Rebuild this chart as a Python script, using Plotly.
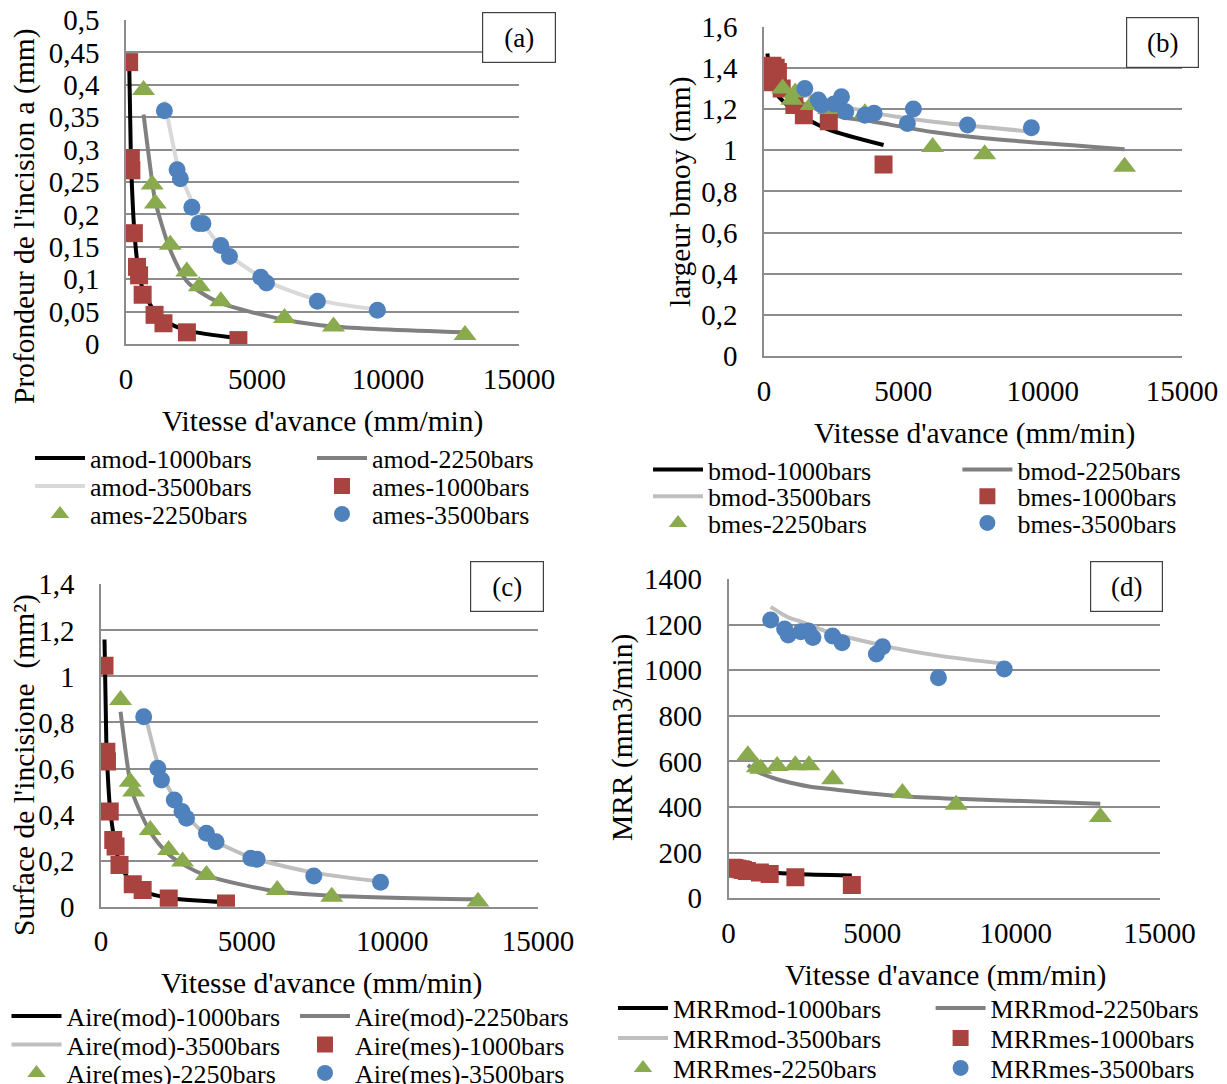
import plotly.graph_objects as go

# page has an 8px body margin: figure is shrunk and all pixel positions shifted by it
OFF = 8
W, H = 1227 - OFF, 1084 - OFF
FONT = "Liberation Serif"

# ---------------- data ----------------
# feed rates (mm/min) for each pressure
v_1000 = [120, 185, 205, 300, 420, 500, 635, 1090, 1430, 2325, 4290]
v_2250 = [670, 1000, 1120, 1690, 2320, 2800, 3620, 6050, 7920, 12940]
v_3500 = [1465, 1950, 2075, 2515, 2780, 2935, 3620, 3950, 5145, 5360, 7305, 9595]

# (a) depth a (mm)
a_mod_1000 = [0.44, 0.29, 0.265, 0.185, 0.13, 0.11, 0.085, 0.05, 0.037, 0.021, 0.009]
a_mod_2250 = [0.354, 0.25, 0.22, 0.145, 0.097, 0.081, 0.063, 0.0375, 0.027, 0.018]
a_mod_3500 = [0.375, 0.279, 0.262, 0.220, 0.198, 0.187, 0.150, 0.136, 0.103, 0.097, 0.068, 0.053]
a_mes_1000 = [0.435, 0.287, 0.268, 0.171, 0.119, 0.106, 0.076, 0.045, 0.032, 0.018, 0.006]
a_mes_2250 = [0.392, 0.246, 0.217, 0.153, 0.112, 0.089, 0.066, 0.040, 0.027, 0.014]
a_mes_3500 = [0.360, 0.269, 0.255, 0.211, 0.186, 0.186, 0.152, 0.135, 0.103, 0.094, 0.066, 0.052]

# (b) mean width bmoy (mm)
b_mod_1000 = [1.47, 1.41, 1.39, 1.34, 1.29, 1.265, 1.245, 1.19, 1.16, 1.10, 1.025]
b_mod_2250 = [1.30, 1.26, 1.245, 1.21, 1.18, 1.16, 1.145, 1.088, 1.058, 1.005]
b_mod_3500 = [1.27, 1.25, 1.24, 1.225, 1.215, 1.21, 1.19, 1.18, 1.155, 1.15, 1.12, 1.09]
b_mes_1000 = [1.36, 1.33, 1.40, 1.41, 1.40, 1.38, 1.30, 1.22, 1.17, 1.14, 0.93]
b_mes_2250 = [1.30, 1.245, 1.28, 1.22, 1.20, 1.21, 1.18, 1.015, 0.98, 0.92]
b_mes_3500 = [1.30, 1.244, 1.22, 1.225, 1.26, 1.187, 1.17, 1.18, 1.13, 1.20, 1.122, 1.109]

# (c) cut area (mm²)
c_mod_1000 = [1.16, 0.70, 0.64, 0.44, 0.32, 0.26, 0.19, 0.095, 0.068, 0.038, 0.020]
c_mod_2250 = [0.847, 0.54, 0.48, 0.325, 0.228, 0.185, 0.135, 0.066, 0.048, 0.032]
c_mod_3500 = [0.86, 0.62, 0.58, 0.47, 0.42, 0.395, 0.31, 0.282, 0.213, 0.205, 0.148, 0.109]
c_mes_1000 = [1.046, 0.673, 0.630, 0.413, 0.290, 0.261, 0.181, 0.097, 0.072, 0.036, 0.014]
c_mes_2250 = [0.898, 0.543, 0.50, 0.333, 0.246, 0.196, 0.138, 0.072, 0.043, 0.022]
c_mes_3500 = [0.825, 0.601, 0.550, 0.463, 0.413, 0.384, 0.319, 0.282, 0.210, 0.206, 0.133, 0.106]

# (d) MRR (mm3/min)
d_mod_1000 = [138, 135, 134, 131, 128, 126, 123, 117, 113, 107, 100]
d_mod_2250 = [584, 555, 548, 522, 502, 490, 478, 447, 436, 415]
d_mod_3500 = [1278, 1240, 1232, 1213, 1200, 1193, 1160, 1150, 1115, 1108, 1064, 1028]
d_mes_1000 = [134, 133, 132, 130, 127, 124, 120, 113, 106, 92, 58]
d_mes_2250 = [627, 575, 568, 580, 583, 583, 522, 462, 410, 356]
d_mes_3500 = [1220, 1181, 1154, 1169, 1172, 1144, 1150, 1121, 1071, 1103, 967, 1005]

# tick labels
x_tickvals = [0, 5000, 10000, 15000]
x_ticktext = ["0", "5000", "10000", "15000"]
a_tickvals = [0, 0.05, 0.1, 0.15, 0.2, 0.25, 0.3, 0.35, 0.4, 0.45, 0.5]
a_ticktext = ["0", "0,05", "0,1", "0,15", "0,2", "0,25", "0,3", "0,35", "0,4", "0,45", "0,5"]
b_tickvals = [0, 0.2, 0.4, 0.6, 0.8, 1.0, 1.2, 1.4, 1.6]
b_ticktext = ["0", "0,2", "0,4", "0,6", "0,8", "1", "1,2", "1,4", "1,6"]
c_tickvals = [0, 0.2, 0.4, 0.6, 0.8, 1.0, 1.2, 1.4]
c_ticktext = ["0", "0,2", "0,4", "0,6", "0,8", "1", "1,2", "1,4"]
d_tickvals = [0, 200, 400, 600, 800, 1000, 1200, 1400]
d_ticktext = ["0", "200", "400", "600", "800", "1000", "1200", "1400"]

# ---------------- styling / layout ----------------
C_BLACK = "#000000"
C_DARK = "#808080"
C_RED = "#A9433F"
C_GREEN = "#8AAA4E"
C_BLUE = "#4F81BD"
GRID = "#8C8C8C"

panels = [
    dict(key="a", mod=[a_mod_1000, a_mod_2250, a_mod_3500], mes=[a_mes_1000, a_mes_2250, a_mes_3500],
         names=["amod-1000bars", "amod-2250bars", "amod-3500bars", "ames-1000bars", "ames-2250bars", "ames-3500bars"],
         light="#D9D9D9", yr=[0, 0.5], tv=a_tickvals, tt=a_ticktext,
         box_px=(126, 519, 20, 344), ytitle="Profondeur de l'incision a (mm)", ytitle_pos=(25, 216),
         xtitle_pos=(322, 422), label="(a)", label_box=(482, 556, 12, 63),
         leg_x=30, leg_rows=[458, 486, 514], leg_sp=282),
    dict(key="b", mod=[b_mod_1000, b_mod_2250, b_mod_3500], mes=[b_mes_1000, b_mes_2250, b_mes_3500],
         names=["bmod-1000bars", "bmod-2250bars", "bmod-3500bars", "bmes-1000bars", "bmes-2250bars", "bmes-3500bars"],
         light="#BFBFBF", yr=[0, 1.6], tv=b_tickvals, tt=b_ticktext,
         box_px=(764, 1182, 26.7, 356), ytitle="largeur bmoy (mm)", ytitle_pos=(680, 192),
         xtitle_pos=(974, 433), label="(b)", label_box=(1126, 1199, 17, 68),
         leg_x=648, leg_rows=[469.7, 496.3, 523], leg_sp=309.4),
    dict(key="c", mod=[c_mod_1000, c_mod_2250, c_mod_3500], mes=[c_mes_1000, c_mes_2250, c_mes_3500],
         names=["Aire(mod)-1000bars", "Aire(mod)-2250bars", "Aire(mod)-3500bars",
                "Aire(mes)-1000bars", "Aire(mes)-2250bars", "Aire(mes)-3500bars"],
         light="#BFBFBF", yr=[0, 1.4], tv=c_tickvals, tt=c_ticktext,
         box_px=(101, 538, 584.3, 906.7), ytitle="Surface de l'incisione \u00a0(mm²)", ytitle_pos=(24, 765),
         xtitle_pos=(321, 983), label="(c)", label_box=(470, 544, 561, 612),
         leg_x=6.5, leg_rows=[1016, 1044.7, 1073], leg_sp=288.5),
    dict(key="d", mod=[d_mod_1000, d_mod_2250, d_mod_3500], mes=[d_mes_1000, d_mes_2250, d_mes_3500],
         names=["MRRmod-1000bars", "MRRmod-2250bars", "MRRmod-3500bars",
                "MRRmes-1000bars", "MRRmes-2250bars", "MRRmes-3500bars"],
         light="#BFBFBF", yr=[0, 1400], tv=d_tickvals, tt=d_ticktext,
         box_px=(728.6, 1159.5, 579, 898.3), ytitle="MRR (mm3/min)", ytitle_pos=(622, 738),
         xtitle_pos=(945, 975), label="(d)", label_box=(1090, 1163, 561, 612),
         leg_x=613, leg_rows=[1008, 1038, 1068], leg_sp=317.6),
]

speeds = [v_1000, v_2250, v_3500]

fig = go.Figure()
layout = dict(
    width=W, height=H,
    margin=dict(l=0, r=0, t=0, b=0, autoexpand=False),
    paper_bgcolor="white", plot_bgcolor="white",
    font=dict(family=FONT, color="black"),
    annotations=[],
)


def px_x(p):
    return (p - OFF) / W


def px_y(p):
    return 1 - (p - OFF) / H


for i, P in enumerate(panels):
    n = "" if i == 0 else str(i + 1)
    xa, ya = "x" + n, "y" + n
    x0, x1, y0, y1 = P["box_px"]
    leg_names = []
    for r in range(3):
        k = i * 3 + r + 1
        leg_names.append("legend" if k == 1 else "legend%d" % k)
    row_of = [0, 0, 1, 1, 2, 2]
    line_colors = [C_BLACK, C_DARK, P["light"]]
    for j in range(3):
        fig.add_trace(go.Scatter(
            x=speeds[j], y=P["mod"][j], mode="lines", name=P["names"][j],
            line=dict(color=line_colors[j], width=4, shape="spline", smoothing=0.8),
            xaxis=xa, yaxis=ya, legend=leg_names[row_of[j]], showlegend=True,
        ))
    symbols = ["square", "triangle-up", "circle"]
    sizes = [18, 20, 17]
    mcolors = [C_RED, C_GREEN, C_BLUE]
    for j in range(3):
        fig.add_trace(go.Scatter(
            x=speeds[j], y=P["mes"][j], mode="markers", name=P["names"][3 + j],
            marker=dict(symbol=symbols[j], size=sizes[j], color=mcolors[j], line=dict(width=0)),
            xaxis=xa, yaxis=ya, legend=leg_names[row_of[3 + j]], showlegend=True,
        ))

    layout["xaxis" + n] = dict(
        domain=[px_x(x0), px_x(x1)], anchor=ya, range=[0, 15000],
        tickvals=x_tickvals, ticktext=x_ticktext, showgrid=False, zeroline=False,
        showline=True, linecolor=GRID, linewidth=1.5,
        ticks="outside", ticklen=8, tickcolor="rgba(0,0,0,0)", ticklabeloverflow="allow",
        tickfont=dict(family=FONT, size=29, color="black"),
    )
    layout["yaxis" + n] = dict(
        domain=[px_y(y1), px_y(y0)], anchor=xa, range=P["yr"],
        tickvals=P["tv"], ticktext=P["tt"], showgrid=True, gridcolor=GRID, gridwidth=1.5,
        zeroline=False, showline=True, linecolor=GRID, linewidth=1.5,
        ticks="outside", ticklen=19, tickcolor="rgba(0,0,0,0)", ticklabeloverflow="allow",
        tickfont=dict(family=FONT, size=29, color="black"),
    )
    tx, ty = P["xtitle_pos"]
    layout["annotations"].append(dict(
        text="Vitesse d'avance (mm/min)", x=px_x(tx), y=px_y(ty), xref="paper", yref="paper",
        xanchor="center", yanchor="middle", showarrow=False,
        font=dict(family=FONT, size=29.5, color="black")))
    yx, yy = P["ytitle_pos"]
    layout["annotations"].append(dict(
        text=P["ytitle"], x=px_x(yx), y=px_y(yy), xref="paper", yref="paper", textangle=-90,
        xanchor="center", yanchor="middle", showarrow=False,
        font=dict(family=FONT, size=29.5, color="black")))
    bx0, bx1, by0, by1 = P["label_box"]
    layout["annotations"].append(dict(
        text=P["label"], x=px_x((bx0 + bx1) / 2), y=px_y((by0 + by1) / 2), xref="paper", yref="paper",
        xanchor="center", yanchor="middle", showarrow=False,
        width=bx1 - bx0 - 2, height=by1 - by0 - 2, borderpad=0, borderwidth=1.2,
        bordercolor="#404040", bgcolor="white", align="center", valign="middle",
        font=dict(family=FONT, size=27, color="black")))
    for r in range(3):
        layout[leg_names[r]] = dict(
            orientation="h", xref="paper", yref="paper",
            x=px_x(P["leg_x"]), xanchor="left", y=px_y(P["leg_rows"][r]), yanchor="middle",
            entrywidth=P["leg_sp"] - 65, entrywidthmode="pixels", itemwidth=50,
            itemsizing="trace", bgcolor="rgba(0,0,0,0)", borderwidth=0,
            font=dict(family=FONT, size=26, color="black"), tracegroupgap=0,
        )

fig.update_layout(**layout)
fig.write_html("out.html")
